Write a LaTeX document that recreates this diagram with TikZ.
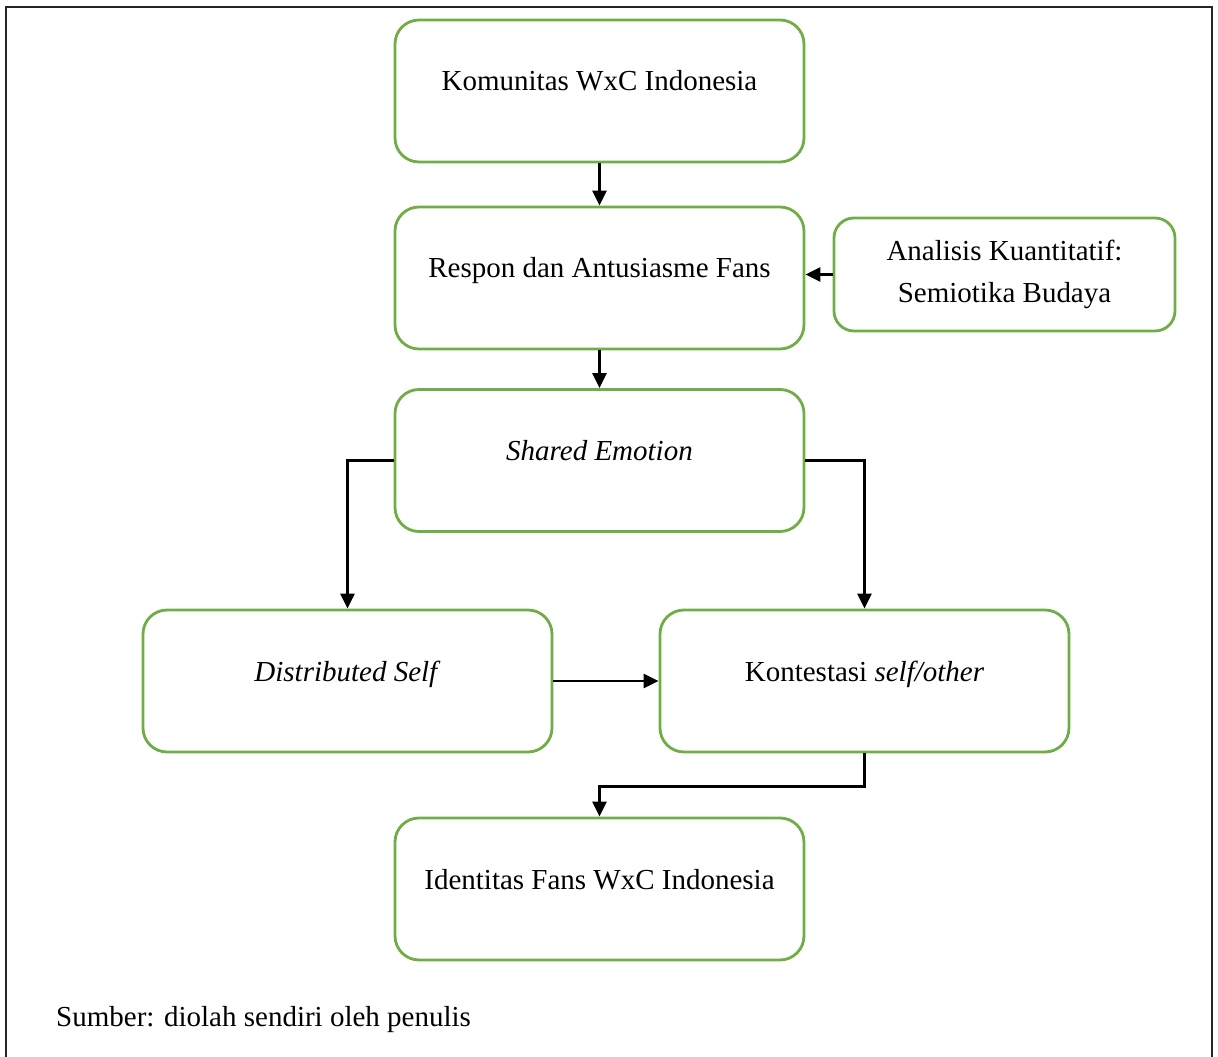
\documentclass[tikz,border=0pt]{standalone}
\usepackage{fontspec}
\setmainfont{Liberation Serif}
\usetikzlibrary{arrows.meta}

\definecolor{boxgreen}{RGB}{112,173,71}

\tikzset{
  stage/.style={draw=boxgreen, line width=1.6pt, rounded corners=0.48cm,
    minimum width=8.18cm, minimum height=2.84cm, align=center,
    text height=0.45cm, text depth=0.45cm, font=\fontsize{16.5}{21}\selectfont},
  method/.style={draw=boxgreen, line width=1.6pt, rounded corners=0.4cm,
    minimum width=6.82cm, minimum height=2.26cm, align=center,
    font=\fontsize{16.5}{24}\selectfont},
  flow/.style={line width=1.6pt, -{Triangle[length=0.3cm, width=0.28cm]}}
}

\begin{document}
\begin{tikzpicture}
  \useasboundingbox (0,0) rectangle (24.36,-21.14);
  % frame
  \draw[line width=1.3pt, black!85] (0.12,-21.14) -- (0.12,-0.14) -- (24.24,-0.14) -- (24.24,-21.14);

  \node[stage]  (kom) at (11.99,-1.82)  {Komunitas WxC Indonesia};
  \node[stage]  (res) at (11.99,-5.56)  {Respon dan Antusiasme Fans};
  \node[method] (ana) at (20.09,-5.49)  {Analisis Kuantitatif:\\Semiotika Budaya};
  \node[stage]  (shr) at (11.99,-9.21)  {\textit{Shared Emotion}};
  \node[stage]  (dis) at (6.95,-13.62)  {\textit{Distributed Self}};
  \node[stage]  (kon) at (17.29,-13.62) {Kontestasi \textit{self/other}};
  \node[stage]  (ide) at (11.99,-17.78) {Identitas Fans WxC Indonesia};

  \node[anchor=west, font=\fontsize{16.5}{21}\selectfont] (src) at (1.0,-20.4) {Sumber: diolah sendiri oleh penulis};

  \draw[flow] (kom) -- (res);
  \draw[flow] (res) -- (shr);
  \draw[flow] (ana.west) -- (ana.west -| res.east);
  \draw[flow] (shr.west) -| (dis.north);
  \draw[flow] (shr.east) -| (kon.north);
  \draw[flow] (dis) -- (kon);
  \draw[flow] (kon.south) -- ++(0,-0.66) -| (ide.north);
\end{tikzpicture}
\end{document}
